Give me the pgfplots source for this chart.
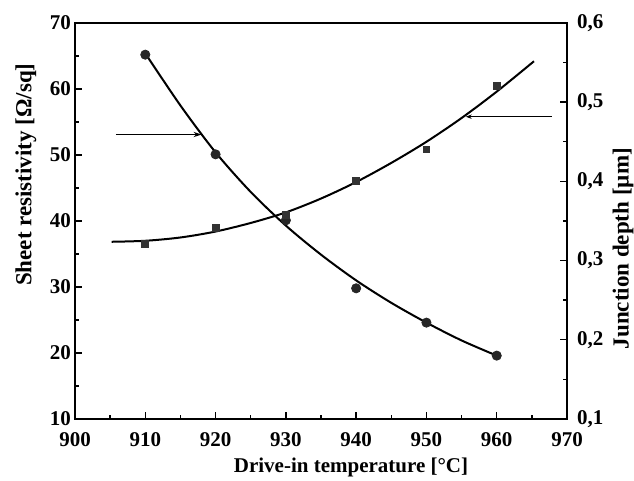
\documentclass[border=0pt]{standalone}
\usepackage{fontspec}
\setmainfont{Liberation Serif}
\usepackage{pgfplots}
\pgfplotsset{compat=1.18}
\usetikzlibrary{arrows.meta}

\pgfplotsset{
  common/.style={
    width=246pt, height=198pt, scale only axis,
    xmin=900, xmax=970, xtick={900,910,...,970},
    minor x tick num=1, minor y tick num=1,
    tick align=inside,
    major tick length=3.5pt, minor tick length=2pt,
    axis line style={line width=0.8pt},
    every tick/.append style={line width=0.7pt, black},
    tick label style={font=\fontsize{10.5}{12}\selectfont\bfseries},
    /pgf/number format/assume math mode=true,
  }
}

\begin{document}
\begin{tikzpicture}
% sheet resistivity, left axis
\begin{axis}[common, name=ax,
  ymin=10, ymax=70, ytick={10,20,...,70},
  xtick pos=bottom, ytick pos=left,
  x tick label style={yshift=-3pt},
  y tick label style={xshift=1.5pt},
  xlabel={Drive-in temperature [°C]},
  ylabel={Sheet resistivity [Ω/sq]},
  xlabel style={font=\fontsize{10.5}{12}\selectfont\bfseries,
    at={(axis description cs:0.561,0)}, anchor=north, yshift=-16pt},
  ylabel style={font=\fontsize{11.5}{13}\selectfont\bfseries,
    at={(axis description cs:-0.0996,0.617)}, anchor=center},
]
\addplot[black, line width=1pt, smooth, tension=0.5] coordinates {
 (910,65.4) (915,57.5) (920,50.4) (925,44.4) (930,39.3) (935,34.9)
 (940,31.0) (945,27.6) (950,24.6) (955,21.9) (960,19.6)};
\addplot[only marks, mark=*, mark size=2.3pt, black!85] coordinates {
 (910,65.2) (920,50.1) (930,40.1) (940,29.8) (950,24.6) (960,19.6)};
\draw[line width=0.5pt, -{Stealth[length=4pt,width=2.6pt]}]
  (axis cs:905.8,53.1) -- (axis cs:918.0,53.1);
\draw[line width=0.5pt, -{Stealth[length=3pt,width=2.2pt]}]
  (axis cs:967.8,55.8) -- (axis cs:955.6,55.8);
\end{axis}
% junction depth, right axis
\begin{axis}[common,
  ymin=0.1, ymax=0.6, ytick={0.1,0.2,0.3,0.4,0.5,0.6},
  axis y line*=right, axis x line=none,
  y tick label style={xshift=1.5pt,
    /pgf/number format/.cd, fixed, fixed zerofill, precision=1, use comma},
  ylabel={Junction depth [µm]},
  ylabel style={font=\fontsize{11.5}{13}\selectfont\bfseries,
    at={(axis description cs:1.114,0.43)}, anchor=center},
]
\addplot[black, line width=1pt, smooth, tension=0.5] coordinates {
 (905.2,0.32375) (910,0.325) (915,0.32917) (920,0.33667) (925,0.3475)
 (930,0.36083) (935,0.37833) (940,0.39917) (945,0.42333) (950,0.45)
 (955,0.48) (960,0.51333) (965.3,0.55167)};
\addplot[only marks, mark=square*, mark size=1.7pt, black!80] coordinates {
 (910,0.3208) (920,0.3408) (930,0.3575) (940,0.4005) (950,0.4405) (960,0.5204)};
\end{axis}
\pgfresetboundingbox
\path ([xshift=-37.5pt,yshift=-31pt]ax.south west) rectangle ([xshift=33.5pt,yshift=11.5pt]ax.north east);
\end{tikzpicture}
\end{document}
